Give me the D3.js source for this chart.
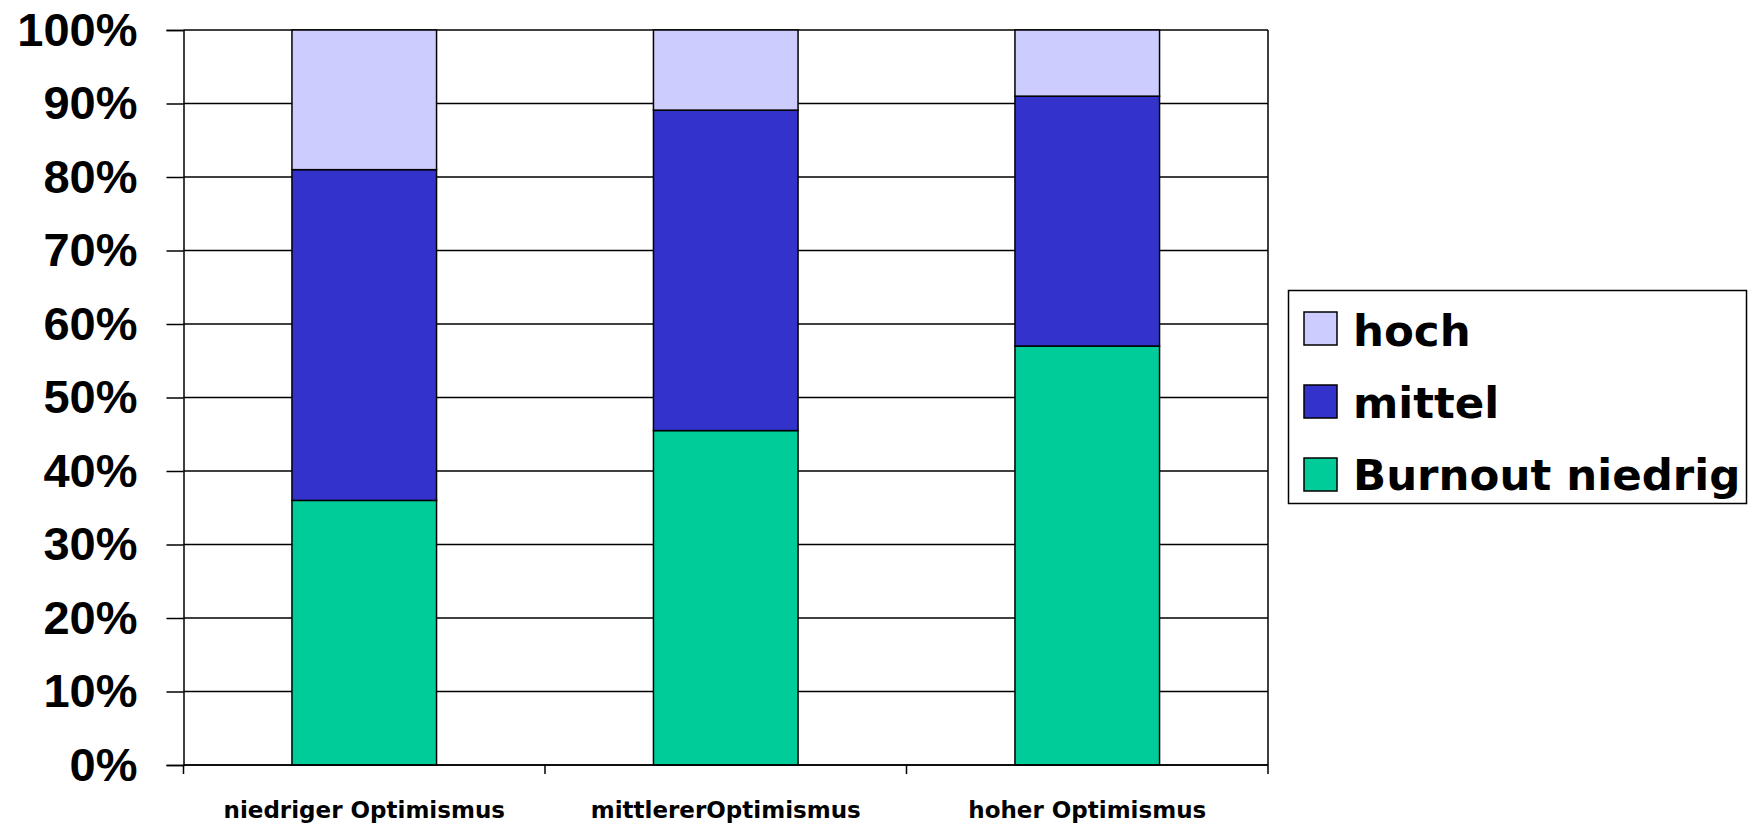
<!DOCTYPE html>
<html>
<head>
<meta charset="utf-8">
<script src="https://cdn.jsdelivr.net/npm/d3@7"></script>
<style>
  body { margin: 0; background: #fff; }
  svg { display: block; }
</style>
</head>
<body>
<div id="chart"></div>
<script>
//Data (percent of each group)
var categories = ["niedriger Optimismus", "mittlererOptimismus", "hoher Optimismus"];
var niedrig = [36, 45.5, 57];
var mittel = [45, 43.6, 34];
var hoch = [19, 10.9, 9];
var seriesNames = ["Burnout niedrig", "mittel", "hoch"];
var seriesColors = ["#00cc99", "#3333cc", "#ccccff"];
var yTicks = [0, 10, 20, 30, 40, 50, 60, 70, 80, 90, 100];

var margin = {top: 30, right: 487, bottom: 61, left: 183.5};
var width = 1755 - margin.left - margin.right,
    height = 826 - margin.top - margin.bottom;

var svg = d3.select("#chart")
   .append("svg")
   .attr("width", 1755)
   .attr("height", 826);

var g = svg.append("g")
   .attr("transform", "translate(" + margin.left + "," + margin.top + ")");

var x = d3.scaleBand()
   .domain(categories)
   .range([0, width])
   .paddingInner(0.6)
   .paddingOuter(0.3);

var y = d3.scaleLinear()
   .domain([0, 100])
   .range([height, 0]);

//Gridlines
g.selectAll(".grid")
   .data(yTicks)
   .enter().append("line")
   .attr("x1", 0)
   .attr("x2", width)
   .attr("y1", function(d) { return y(d); })
   .attr("y2", function(d) { return y(d); })
   .style("stroke", "#000")
   .style("stroke-width", 1.5);

//Right border of the plot area
g.append("line")
   .attr("x1", width).attr("x2", width)
   .attr("y1", 0).attr("y2", height)
   .style("stroke", "#000")
   .style("stroke-width", 1.5);

//Stack the series
var rows = categories.map(function(c, i) {
  return {cat: c, "Burnout niedrig": niedrig[i], "mittel": mittel[i], "hoch": hoch[i]};
});
var stacked = d3.stack().keys(seriesNames)(rows);

g.selectAll(".series")
   .data(stacked)
   .enter().append("g")
   .style("fill", function(d, i) { return seriesColors[i]; })
   .selectAll("rect")
   .data(function(d) { return d; })
   .enter().append("rect")
   .attr("x", function(d) { return x(d.data.cat); })
   .attr("width", x.bandwidth())
   .attr("y", function(d) { return y(d[1]); })
   .attr("height", function(d) { return y(d[0]) - y(d[1]); })
   .style("stroke", "#000")
   .style("stroke-width", 1.5);

//Y axis
var yAxis = g.append("g")
   .call(d3.axisLeft(y)
     .tickValues(yTicks)
     .tickFormat(function(d) { return d + "%"; })
     .tickSize(17)
     .tickPadding(29));
yAxis.select(".domain").style("stroke", "#000").style("stroke-width", 1.5);
yAxis.selectAll(".tick line").style("stroke-width", 1.5);
yAxis.selectAll("text")
   .style("font-family", "'Liberation Sans', Arial, sans-serif")
   .style("font-weight", "bold")
   .style("font-size", "47px")
   .style("fill", "#000");

//X axis, ticks sit between the categories
var xAxis = g.append("g")
   .attr("transform", "translate(0," + height + ")");
xAxis.append("line")
   .attr("x1", 0).attr("x2", width)
   .style("stroke", "#000")
   .style("stroke-width", 1.5);
xAxis.selectAll(".xtick")
   .data(d3.range(categories.length + 1))
   .enter().append("line")
   .attr("x1", function(i) { return i * x.step(); })
   .attr("x2", function(i) { return i * x.step(); })
   .attr("y1", 0)
   .attr("y2", 9)
   .style("stroke", "#000")
   .style("stroke-width", 1.5);
xAxis.selectAll(".xlabel")
   .data(categories)
   .enter().append("text")
   .text(function(d) { return d; })
   .attr("x", function(d) { return x(d) + x.bandwidth() / 2; })
   .attr("y", 53)
   .attr("text-anchor", "middle")
   .style("font-family", "'DejaVu Sans', sans-serif")
   .style("font-weight", "bold")
   .style("font-size", "23px")
   .style("fill", "#000");

//Legend
var legend = svg.append("g");
legend.append("rect")
   .attr("x", 1288.5)
   .attr("y", 290.5)
   .attr("width", 458)
   .attr("height", 213)
   .style("fill", "#fff")
   .style("stroke", "#000")
   .style("stroke-width", 1.5);
//Legend order is reversed like the stack
var legendItems = seriesNames.slice().reverse();
legendItems.forEach(function(name, i) {
  var color = seriesColors[seriesNames.indexOf(name)];
  legend.append("rect")
     .attr("x", 1304)
     .attr("y", 312 + i * 73)
     .attr("width", 33)
     .attr("height", 33)
     .style("fill", color)
     .style("stroke", "#000")
     .style("stroke-width", 1.5);
  legend.append("text")
     .text(name)
     .attr("x", 1353)
     .attr("y", 346 + i * 72)
     .style("font-family", "'DejaVu Sans', sans-serif")
     .style("font-weight", "bold")
     .style("font-size", "43.5px")
     .style("fill", "#000");
});
</script>
</body>
</html>
